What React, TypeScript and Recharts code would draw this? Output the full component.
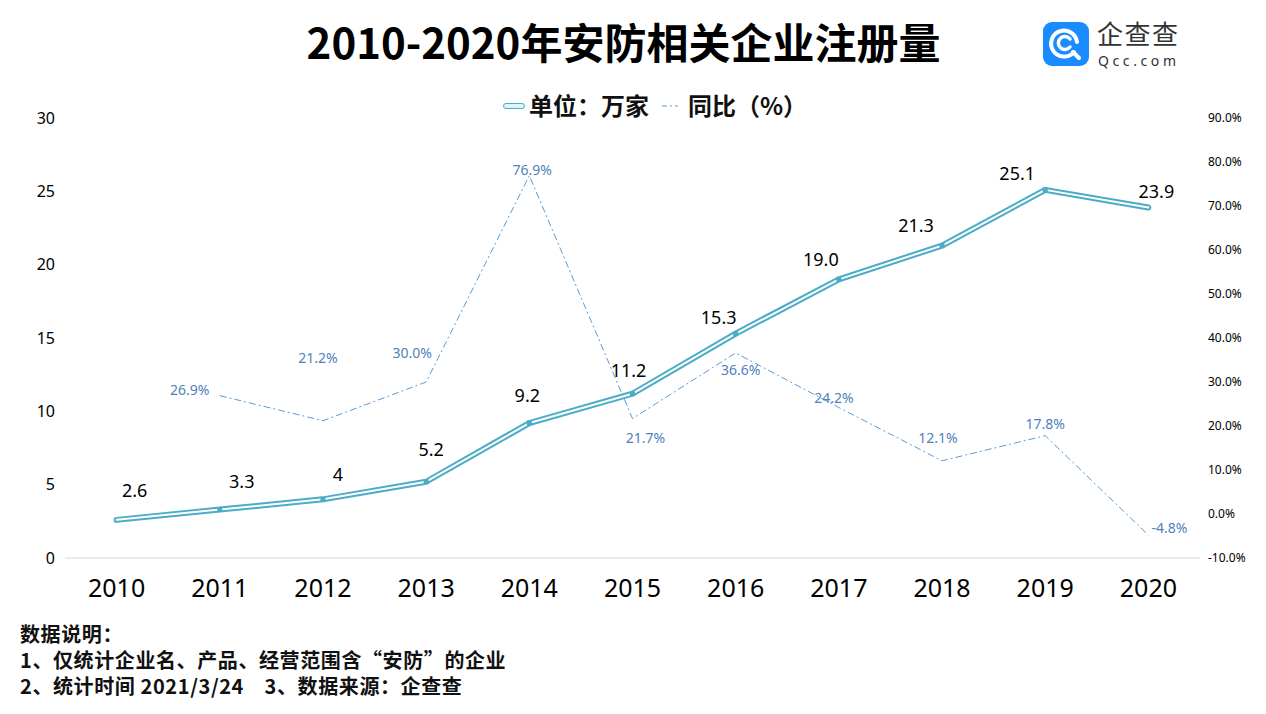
import { LineChart, Line, XAxis, YAxis, LabelList } from 'recharts'

const years = ['2010', '2011', '2012', '2013', '2014', '2015', '2016', '2017', '2018', '2019', '2020']
const registrations = [2.6, 3.3, 4, 5.2, 9.2, 11.2, 15.3, 19.0, 21.3, 25.1, 23.9]
const registrationLabels = ['2.6', '3.3', '4', '5.2', '9.2', '11.2', '15.3', '19.0', '21.3', '25.1', '23.9']
const yoy = [null, 26.9, 21.2, 30.0, 76.9, 21.7, 36.6, 24.2, 12.1, 17.8, -4.8]
const yoyLabels = ['', '26.9%', '21.2%', '30.0%', '76.9%', '21.7%', '36.6%', '24.2%', '12.1%', '17.8%', '-4.8%']
const leftTicks = [0, 5, 10, 15, 20, 25, 30]
const rightTicks = [-10, 0, 10, 20, 30, 40, 50, 60, 70, 80, 90]

// label nudges (px) as placed in the source picture
const regOffsets = [[18, -30], [22, -29], [15, -25], [5, -33], [-2, -28], [-4, -24], [-17, -17], [-18, -20], [-26, -21], [-28, -17], [8, -16]]
const yoyOffsets = [[0, 0], [-30, -6], [-5, -63], [-14, -30], [3, -6], [13, 19], [5, 17], [-5, -10], [-4, -23], [0, -12], [21, -8]]

const TEAL = '#4BACC6'
const BLUE_LINE = '#5B9BD5'
const BLUE_TEXT = '#4F81BD'
const FONT = "'Noto Sans', 'Noto Sans CJK SC', sans-serif"
const CJK = "'Noto Sans CJK SC', sans-serif"

const data = years.map((y, i) => ({ year: y, reg: registrations[i], yoy: yoy[i] }))

function RegDot(props: any) {
  const { cx, cy, index } = props
  if (index === 0 || index === years.length - 1 || cx == null) return <g key={index} />
  return <rect key={index} x={cx - 2.5} y={cy - 2.5} width={5} height={5} fill={TEAL} />
}

function RegLabel(props: any) {
  const { x, y, index } = props
  const [dx, dy] = regOffsets[index]
  return (
    <text x={x + dx} y={y + dy} textAnchor="middle" dominantBaseline="central" fontSize={18} fill="#000" fontFamily={FONT}>
      {registrationLabels[index]}
    </text>
  )
}

function YoyLabel(props: any) {
  const { x, y, index } = props
  if (yoy[index] == null) return null
  const [dx, dy] = yoyOffsets[index]
  return (
    <text x={x + dx} y={y + dy} textAnchor="middle" dominantBaseline="central" fontSize={14} fill={BLUE_TEXT} fontFamily={FONT}>
      {yoyLabels[index]}
    </text>
  )
}

function Logo() {
  return (
    <div style={{ position: 'absolute', left: 1043, top: 22, width: 150, height: 46 }}>
      <div style={{ position: 'absolute', left: 0, top: 0, width: 46, height: 44, borderRadius: 9, background: '#1A8CFF' }}>
        <svg width={46} height={44}>
          <path d="M31 30 A13 13 0 1 1 34 20" fill="none" stroke="#fff" strokeWidth={4} strokeLinecap="round" />
          <path d="M27 25 A6.5 6.5 0 1 1 27 17" fill="none" stroke="#fff" strokeWidth={3.5} strokeLinecap="round" />
          <path d="M30 30 L36 36" stroke="#fff" strokeWidth={4} strokeLinecap="round" />
        </svg>
      </div>
      <div style={{ position: 'absolute', left: 54, top: -5, fontSize: 26, color: '#333', fontFamily: CJK, letterSpacing: 1.5, lineHeight: '32px' }}>企查查</div>
      <div style={{ position: 'absolute', left: 55, top: 31, fontSize: 14, color: '#333', fontFamily: FONT, letterSpacing: 3.6, lineHeight: '16px' }}>Qcc.com</div>
    </div>
  )
}

function ChartLegend() {
  return (
    <div style={{ position: 'absolute', left: 0, top: 92, width: 1266, height: 30, fontFamily: CJK, fontWeight: 700, fontSize: 24, color: '#111' }}>
      <div style={{ position: 'absolute', left: 503, top: 11, width: 20, height: 4, border: `1.5px solid ${TEAL}`, borderRadius: 3, background: '#dff3f8' }} />
      <div style={{ position: 'absolute', left: 529, top: -3, lineHeight: '32px' }}>单位：万家</div>
      <svg style={{ position: 'absolute', left: 662, top: 12 }} width={16} height={4}>
        <line x1={0} y1={2} x2={16} y2={2} stroke={BLUE_LINE} strokeWidth={1.2} strokeDasharray="5 3 2 3" />
      </svg>
      <div style={{ position: 'absolute', left: 688, top: -3, lineHeight: '32px' }}>同比（%）</div>
    </div>
  )
}

export default function App() {
  return (
    <div style={{ position: 'absolute', left: 0, top: 0, width: 1266, height: 714, background: '#fff', overflow: 'hidden' }}>
      <div style={{ position: 'absolute', left: 0, top: 17, width: 1247, textAlign: 'center', fontFamily: CJK, fontWeight: 700, fontSize: 42, lineHeight: '48px', color: '#000' }}>
        2010-2020年安防相关企业注册量
      </div>
      <Logo />
      <ChartLegend />
      <div style={{ position: 'absolute', left: 0, top: 0 }}>
        <LineChart width={1266} height={714} data={data} margin={{ top: 118, right: 0, bottom: 106, left: 5 }}>
          <XAxis
            dataKey="year"
            height={50}
            padding={{ left: 51.6, right: 51.6 }}
            tickLine={false}
            tickSize={0}
            tickMargin={21}
            axisLine={{ stroke: '#d9d9d9' }}
            tick={{ fill: '#000', fontSize: 25, fontFamily: FONT }}
            interval={0}
          />
          <YAxis
            yAxisId="left"
            width={60}
            domain={[0, 30]}
            ticks={leftTicks}
            axisLine={false}
            tickLine={false}
            tickSize={0}
            tickMargin={10}
            tick={{ fill: '#000', fontSize: 16, fontFamily: FONT }}
          />
          <YAxis
            yAxisId="right"
            orientation="right"
            width={66}
            domain={[-10, 90]}
            ticks={rightTicks}
            axisLine={false}
            tickLine={false}
            tickSize={0}
            tickMargin={8}
            tick={{ fill: '#000', fontSize: 12, fontFamily: FONT, textAnchor: 'start' }}
            tickFormatter={(v: number) => `${v.toFixed(1)}%`}
          />
          <Line
            yAxisId="right"
            dataKey="yoy"
            type="linear"
            stroke={BLUE_LINE}
            strokeWidth={1}
            strokeDasharray="7 3 2 3"
            dot={false}
            activeDot={false}
            isAnimationActive={false}
          >
            <LabelList dataKey="yoy" content={YoyLabel} />
          </Line>
          <Line
            yAxisId="left"
            dataKey="reg"
            type="linear"
            stroke={TEAL}
            strokeWidth={6}
            strokeLinecap="round"
            strokeLinejoin="round"
            dot={false}
            activeDot={false}
            isAnimationActive={false}
          />
          <Line
            yAxisId="left"
            dataKey="reg"
            type="linear"
            stroke="#fff"
            strokeWidth={2}
            strokeLinecap="round"
            strokeLinejoin="round"
            dot={RegDot}
            activeDot={false}
            isAnimationActive={false}
          >
            <LabelList dataKey="reg" content={RegLabel} />
          </Line>
        </LineChart>
      </div>
      <div style={{ position: 'absolute', left: 20, top: 621, fontFamily: CJK, fontWeight: 700, fontSize: 20, letterSpacing: 0.6, lineHeight: '26px', color: '#111' }}>
        <div>数据说明：</div>
        <div>1、仅统计企业名、产品、经营范围含“安防”的企业</div>
        <div>2、统计时间 2021/3/24&nbsp;&nbsp;&nbsp;&nbsp;3、数据来源：企查查</div>
      </div>
    </div>
  )
}
